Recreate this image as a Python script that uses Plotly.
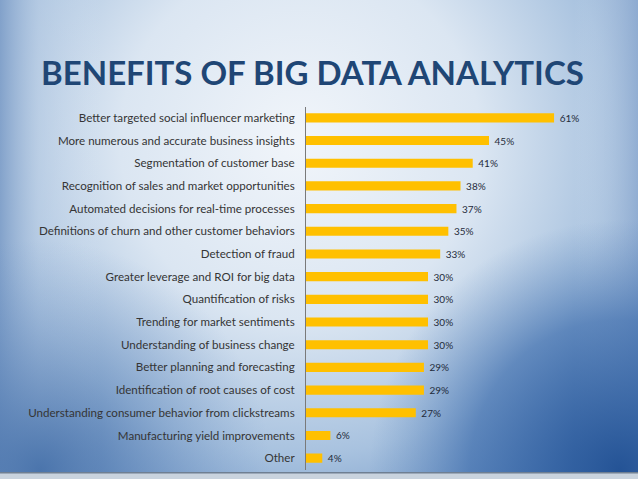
import base64
import plotly.graph_objects as go

categories = [
    "Better targeted social influencer marketing",
    "More numerous and accurate business insights",
    "Segmentation of customer base",
    "Recognition of sales and market opportunities",
    "Automated decisions for real-time processes",
    "Definitions of churn and other customer behaviors",
    "Detection of fraud",
    "Greater leverage and ROI for big data",
    "Quantification of risks",
    "Trending for market sentiments",
    "Understanding of business change",
    "Better planning and forecasting",
    "Identification of root causes of cost",
    "Understanding consumer behavior from clickstreams",
    "Manufacturing yield improvements",
    "Other",
]
values = [61, 45, 41, 38, 37, 35, 33, 30, 30, 30, 30, 29, 29, 27, 6, 4]
value_labels = [f" {v}%" for v in values]
title_text = "BENEFITS OF BIG DATA ANALYTICS"

W, H = 638, 479

svg = f'''<svg xmlns="http://www.w3.org/2000/svg" width="{W}" height="{H}" viewBox="0 0 {W} {H}">
<defs>
<radialGradient id="g1" cx="300" cy="140" r="450" gradientUnits="userSpaceOnUse">
<stop offset="0" stop-color="#f1f5fa"/>
<stop offset="0.4" stop-color="#dbe6f2"/>
<stop offset="0.7" stop-color="#a8c2df"/>
<stop offset="1" stop-color="#5f88bd"/>
</radialGradient>
<radialGradient id="g2" cx="620" cy="470" r="250" gradientUnits="userSpaceOnUse">
<stop offset="0" stop-color="#1f4f93" stop-opacity="0.95"/>
<stop offset="0.6" stop-color="#3a6aab" stop-opacity="0.65"/>
<stop offset="1" stop-color="#5d87bd" stop-opacity="0"/>
</radialGradient>
<radialGradient id="g3" cx="40" cy="470" r="230" gradientUnits="userSpaceOnUse">
<stop offset="0" stop-color="#3e6aa5" stop-opacity="0.85"/>
<stop offset="1" stop-color="#6a90c2" stop-opacity="0"/>
</radialGradient>
<linearGradient id="g4" x1="0" y1="0" x2="1" y2="0">
<stop offset="0" stop-color="#7e9ec8" stop-opacity="0.9"/>
<stop offset="0.06" stop-color="#b7cbe3" stop-opacity="0.5"/>
<stop offset="0.16" stop-color="#dbe6f2" stop-opacity="0"/>
<stop offset="0.9" stop-color="#dbe6f2" stop-opacity="0"/>
<stop offset="1" stop-color="#8eaad0" stop-opacity="0.7"/>
</linearGradient>
</defs>
<rect x="0" y="0" width="{W}" height="{H}" fill="url(#g1)"/>
<rect x="0" y="0" width="{W}" height="{H}" fill="url(#g4)"/>
<rect x="0" y="0" width="{W}" height="{H}" fill="url(#g3)"/>
<rect x="0" y="0" width="{W}" height="{H}" fill="url(#g2)"/>
<rect x="0" y="473" width="{W}" height="6" fill="#c9d3de"/>
<rect x="0" y="472" width="{W}" height="1.5" fill="#6f7f92"/>
</svg>'''
src = "data:image/svg+xml;base64," + base64.b64encode(svg.encode()).decode()

fig = go.Figure()
fig.add_trace(go.Bar(
    x=values,
    y=categories,
    orientation="h",
    marker=dict(color="#FFC000", line=dict(width=0)),
    text=value_labels,
    textposition="outside",
    constraintext="none",
    textfont=dict(family="Lato", size=10, color="#1f2b3a"),
    cliponaxis=False,
    hoverinfo="skip",
))

fig.update_layout(
    width=W,
    height=H,
    margin=dict(l=0, r=0, t=0, b=0),
    paper_bgcolor="#dbe6f2",
    plot_bgcolor="rgba(0,0,0,0)",
    bargap=0.6,
    showlegend=False,
    xaxis=dict(
        domain=[306 / W, 611 / W],
        range=[0, 75],
        visible=False,
        fixedrange=True,
    ),
    yaxis=dict(
        domain=[1 - 469.5 / H, 1 - 106.5 / H],
        autorange="reversed",
        showline=True,
        linecolor="#7a7a7a",
        linewidth=1,
        showgrid=False,
        ticks="",
        ticklabelstandoff=8,
        tickfont=dict(family="Lato", size=11.6, color="#353535"),
        automargin=False,
        fixedrange=True,
    ),
    images=[dict(
        source=src, xref="paper", yref="paper", x=0, y=1,
        sizex=1, sizey=1, xanchor="left", yanchor="top",
        sizing="stretch", layer="below",
    )],
    annotations=[dict(
        text=f"<b>{title_text}</b>",
        xref="paper", yref="paper",
        x=312 / W, y=1 - 72 / H,
        xanchor="center", yanchor="middle",
        showarrow=False,
        font=dict(family="Lato", size=33, color="#1f4675"),
    )],
)

fig.write_html(
    "out.html",
    config={"displayModeBar": False},
    post_script="document.body.style.margin='0';document.body.style.overflow='hidden';",
)
